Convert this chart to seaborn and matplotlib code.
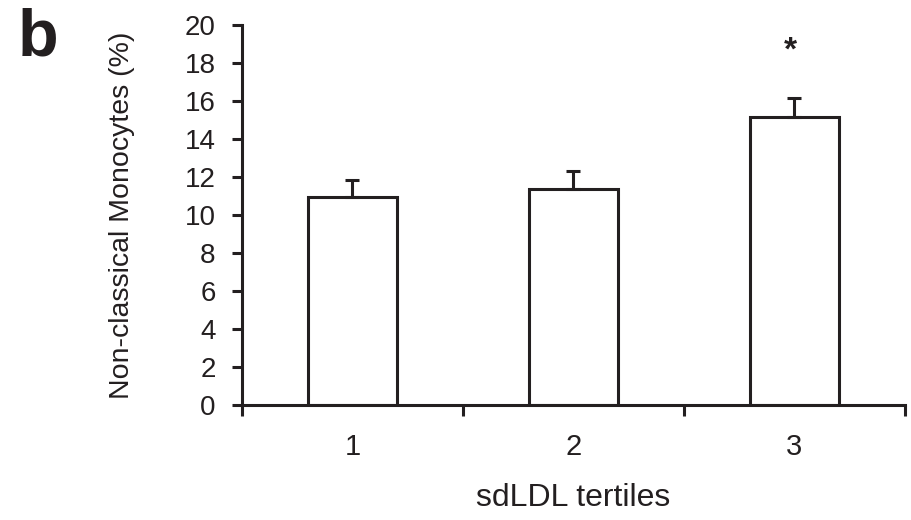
import numpy as np
import pandas as pd
import seaborn as sns
import matplotlib.pyplot as plt

# values
tertiles = ["1", "2", "3"]
means = [10.95, 11.37, 15.18]
sem = [0.90, 0.95, 1.00]
signif = ["", "", "*"]

sns.set_style("ticks")
plt.rcParams['font.family'] = ['Liberation Sans', 'DejaVu Sans']

ink = "#231f20"
df = pd.DataFrame({"tertile": tertiles, "mean": means, "sem": sem})

fig = plt.figure(figsize=(9.11, 5.2), dpi=100)
ax = fig.add_axes([0.2656, 0.2212, 0.7278, 0.7307])

sns.barplot(data=df, x="tertile", y="mean", color="white", edgecolor=ink,
            linewidth=2.2, width=0.4, errorbar=None, ax=ax)

x = np.arange(len(tertiles))
ax.errorbar(x, df["mean"], yerr=[np.zeros(len(x)), df["sem"]], fmt="none",
            ecolor=ink, elinewidth=2.2, capsize=5, capthick=2.2, zorder=3)

for i, s in enumerate(signif):
    if s:
        ax.text(i - 0.02, means[i] + sem[i] + 2.45, s, ha="center", va="center",
                fontsize=24, fontweight="bold", color=ink)

ax.set_ylim(0, 20)
ax.set_xlim(-0.5, 2.5)
ax.set_yticks(range(0, 21, 2))
ax.set_xticks(x)
ax.set_xticks(np.arange(-0.5, 3, 1), minor=True)

ax.tick_params(axis="y", labelsize=20, length=7, width=2.2, color=ink,
               labelcolor=ink, pad=12)
ax.tick_params(axis="x", which="major", labelsize=21, length=0, pad=20,
               labelcolor=ink)
ax.tick_params(axis="x", which="minor", length=8, width=2.2, color=ink)

for side in ["top", "right"]:
    ax.spines[side].set_visible(False)
for side in ["left", "bottom"]:
    ax.spines[side].set_linewidth(2.2)
    ax.spines[side].set_color(ink)

ax.set_xlabel("sdLDL tertiles", fontsize=23, color=ink, labelpad=16)
ax.set_ylabel("Non-classical Monocytes (%)", fontsize=20.5, color=ink, labelpad=36)

fig.text(0.019, 0.985, "b", fontsize=48, fontweight="bold", color=ink,
         ha="left", va="top")

fig.savefig("out.png", dpi=100, facecolor="white")
